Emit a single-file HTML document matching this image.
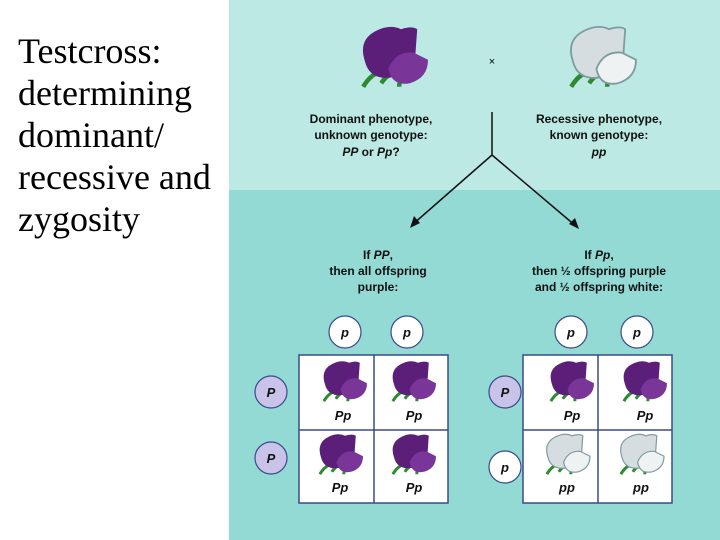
<!DOCTYPE html>
<html><head><meta charset="utf-8"><style>
body{margin:0;width:720px;height:540px;overflow:hidden;background:#fff;position:relative;font-family:"Liberation Sans",sans-serif}
.t{position:absolute;left:18px;top:30px;font:36px/42px "Liberation Serif",serif;color:#000}
</style></head><body>
<div class="t">Testcross:<br>determining<br>dominant/<br>recessive and<br>zygosity</div>
<svg width="720" height="540" style="position:absolute;left:0;top:0">
<defs>
<g id="pf">
<path d="M-16,16 q6,-10 14,-8 M-6,14 q4,-6 10,-6 M4,16 q0,-6 6,-8" stroke="#2e8a2e" stroke-width="2.5" fill="none"/>
<path d="M-15,2 q-4,-12 6,-17 q8,-4 14,-1 q6,-2 9,0 l-1,14 q-6,14 -18,13 q-8,-1 -10,-9 z" fill="#5b1f7a"/>
<path d="M-2,6 q4,-10 14,-9 l8,4 q0,10 -10,13 q-10,2 -12,-8 z" fill="#7a3599"/>
</g>
<g id="wf">
<path d="M-16,16 q6,-10 14,-8 M-6,14 q4,-6 10,-6 M4,16 q0,-6 6,-8" stroke="#2e8a2e" stroke-width="2.5" fill="none"/>
<path d="M-15,2 q-4,-12 6,-17 q8,-4 14,-1 q6,-2 9,0 l-1,14 q-6,14 -18,13 q-8,-1 -10,-9 z" fill="#d6dde0" stroke="#7f9ba2"/>
<path d="M-2,6 q4,-10 14,-9 l8,4 q0,10 -10,13 q-10,2 -12,-8 z" fill="#eef2f3" stroke="#7f9ba2"/>
</g>
</defs>
<rect x="229" y="0" width="491" height="190" fill="#bde9e5"/>
<rect x="229" y="190" width="491" height="350" fill="#93d9d4"/>
<g transform="translate(392,58) scale(1.8)"><use href="#pf"/></g>
<g transform="translate(600,58) scale(1.8)"><use href="#wf"/></g>
<text x="492" y="65" font-size="11" text-anchor="middle">×</text>
<g font-family="Liberation Sans" font-weight="bold" font-size="12" text-anchor="middle" fill="#111">
<text x="371" y="123">Dominant phenotype,</text>
<text x="371" y="139">unknown genotype:</text>
<text x="371" y="156"><tspan font-style="italic">PP</tspan> or <tspan font-style="italic">Pp</tspan>?</text>
<text x="599" y="123">Recessive phenotype,</text>
<text x="599" y="139">known genotype:</text>
<text x="599" y="156" font-style="italic">pp</text>
<text x="378" y="259">If <tspan font-style="italic">PP</tspan>,</text>
<text x="378" y="275">then all offspring</text>
<text x="378" y="291">purple:</text>
<text x="599" y="259">If <tspan font-style="italic">Pp</tspan>,</text>
<text x="599" y="275">then ½ offspring purple</text>
<text x="599" y="291">and ½ offspring white:</text>
</g>
<g stroke="#111" stroke-width="1.5" fill="none">
<path d="M492,112 V155 L412,225 M492,155 L577,227"/>
</g>
<path d="M410,228 l4,-12 l6,7 z" fill="#111"/>
<path d="M579,229 l-10,-5 l6,-6 z" fill="#111"/>
<g stroke="#3a4a8a" stroke-width="1.5" fill="#fff">
<rect x="299" y="355" width="149" height="148"/>
<line x1="374" y1="355" x2="374" y2="503"/><line x1="299" y1="430" x2="448" y2="430"/>
<rect x="523" y="355" width="149" height="148"/>
<line x1="598" y1="355" x2="598" y2="503"/><line x1="523" y1="430" x2="672" y2="430"/>
</g>
<g stroke="#3a4a8a" stroke-width="1.2">
<circle cx="345" cy="332" r="16" fill="#fff"/><circle cx="407" cy="332" r="16" fill="#fff"/>
<circle cx="271" cy="392" r="16" fill="#c9c3ea"/><circle cx="271" cy="458" r="16" fill="#c9c3ea"/>
<circle cx="571" cy="332" r="16" fill="#fff"/><circle cx="637" cy="332" r="16" fill="#fff"/>
<circle cx="505" cy="392" r="16" fill="#c9c3ea"/><circle cx="505" cy="467" r="16" fill="#fff"/>
</g>
<g font-weight="bold" font-style="italic" font-size="13" text-anchor="middle" fill="#111">
<text x="345" y="337">p</text><text x="407" y="337">p</text>
<text x="571" y="337">p</text><text x="637" y="337">p</text>
<text x="271" y="397">P</text><text x="271" y="463">P</text>
<text x="505" y="397">P</text><text x="505" y="472">p</text>
<text x="343" y="420">Pp</text><text x="414" y="420">Pp</text>
<text x="340" y="492">Pp</text><text x="414" y="492">Pp</text>
<text x="572" y="420">Pp</text><text x="645" y="420">Pp</text>
<text x="567" y="492">pp</text><text x="641" y="492">pp</text>
</g>
<g transform="translate(343,382) scale(1.2)"><use href="#pf"/></g>
<g transform="translate(412,382) scale(1.2)"><use href="#pf"/></g>
<g transform="translate(339,455) scale(1.2)"><use href="#pf"/></g>
<g transform="translate(412,455) scale(1.2)"><use href="#pf"/></g>
<g transform="translate(570,382) scale(1.2)"><use href="#pf"/></g>
<g transform="translate(643,382) scale(1.2)"><use href="#pf"/></g>
<g transform="translate(566,455) scale(1.2)"><use href="#wf"/></g>
<g transform="translate(640,455) scale(1.2)"><use href="#wf"/></g>
</svg>
</body></html>
